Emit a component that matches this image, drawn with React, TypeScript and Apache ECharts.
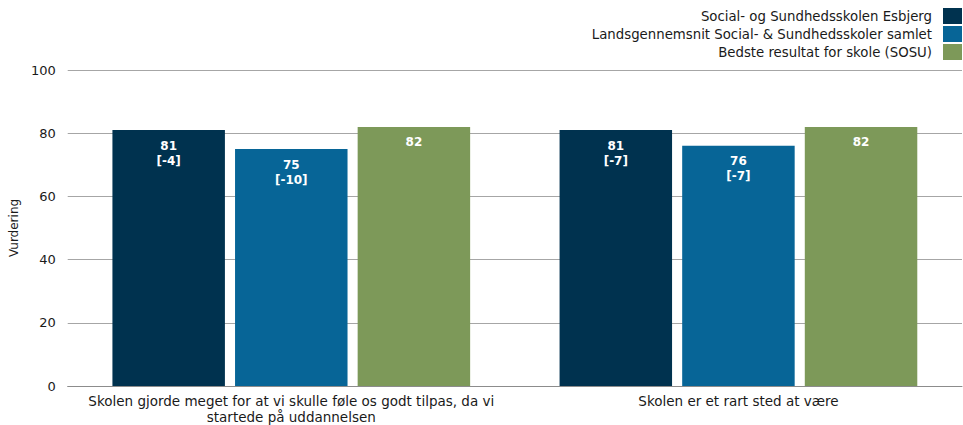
import React, { useEffect, useRef } from "react";
import * as echarts from "echarts";

const categories = [
  "Skolen gjorde meget for at vi skulle føle os godt tilpas, da vi\nstartede på uddannelsen",
  "Skolen er et rart sted at være",
];
const seriesNames = [
  "Social- og Sundhedsskolen Esbjerg",
  "Landsgennemsnit Social- & Sundhedsskoler samlet",
  "Bedste resultat for skole (SOSU)",
];
const esbjergValues = [81, 81];
const esbjergDiffs = ["[-4]", "[-7]"];
const landsValues = [75, 76];
const landsDiffs = ["[-10]", "[-7]"];
const bestValues = [82, 82];
const yTicks = [0, 20, 40, 60, 80, 100];
const colors = ["#00324f", "#076597", "#7d9959"];

const FONT = "DejaVu Sans";

export default function App() {
  const ref = useRef<HTMLDivElement>(null);
  useEffect(() => {
    if (!ref.current) return;
    const chart = echarts.init(ref.current, null, { renderer: "svg" });
    const mkLabel = (diffs: string[] | null) => ({
      show: true,
      position: "insideTop",
      distance: 8,
      color: "#ffffff",
      fontFamily: FONT,
      fontSize: 12,
      fontWeight: "bold",
      lineHeight: 15,
      formatter: (p: any) =>
        diffs ? `${p.value}\n${diffs[p.dataIndex]}` : `${p.value}`,
    });
    chart.setOption({
      animation: false,
      textStyle: { fontFamily: FONT },
      legend: {
        orient: "vertical",
        right: 1,
        top: 8,
        padding: 0,
        align: "right",
        itemWidth: 19,
        itemHeight: 16,
        itemGap: 2,
        icon: "rect",
        textStyle: { fontFamily: FONT, fontSize: 13.3, color: "#1a1a1a", padding: [0, 6, 0, 0] },
        data: seriesNames,
      },
      grid: { left: 67, right: 1, top: 70, bottom: 36, containLabel: false },
      xAxis: {
        type: "category",
        data: categories,
        axisLine: { show: true, lineStyle: { color: "#8c8c8c", width: 1 } },
        axisTick: { show: false },
        axisLabel: {
          interval: 0,
          margin: 7,
          fontFamily: FONT,
          fontSize: 13.5,
          color: "#1a1a1a",
          lineHeight: 16,
          align: "center",
        },
      },
      yAxis: {
        type: "value",
        min: yTicks[0],
        max: yTicks[yTicks.length - 1],
        interval: 20,
        name: "Vurdering",
        nameLocation: "middle",
        nameGap: 38,
        nameTextStyle: { fontFamily: FONT, fontSize: 12, color: "#1a1a1a" },
        axisLine: { show: false },
        axisTick: { show: false },
        splitLine: { show: true, lineStyle: { color: "#a6a6a6", width: 1 } },
        axisLabel: { margin: 12, fontFamily: FONT, fontSize: 13, color: "#1a1a1a" },
      },
      series: [
        {
          name: seriesNames[0],
          type: "bar",
          data: esbjergValues,
          itemStyle: { color: colors[0] },
          barGap: "9%",
          barCategoryGap: "20%",
          label: mkLabel(esbjergDiffs),
        },
        {
          name: seriesNames[1],
          type: "bar",
          data: landsValues,
          itemStyle: { color: colors[1] },
          label: mkLabel(landsDiffs),
        },
        {
          name: seriesNames[2],
          type: "bar",
          data: bestValues,
          itemStyle: { color: colors[2] },
          label: mkLabel(null),
        },
      ],
    });
    return () => chart.dispose();
  }, []);
  return <div ref={ref} style={{ width: 963, height: 425, position: "absolute", left: 0, top: 0, background: "#fff" }} />;
}
